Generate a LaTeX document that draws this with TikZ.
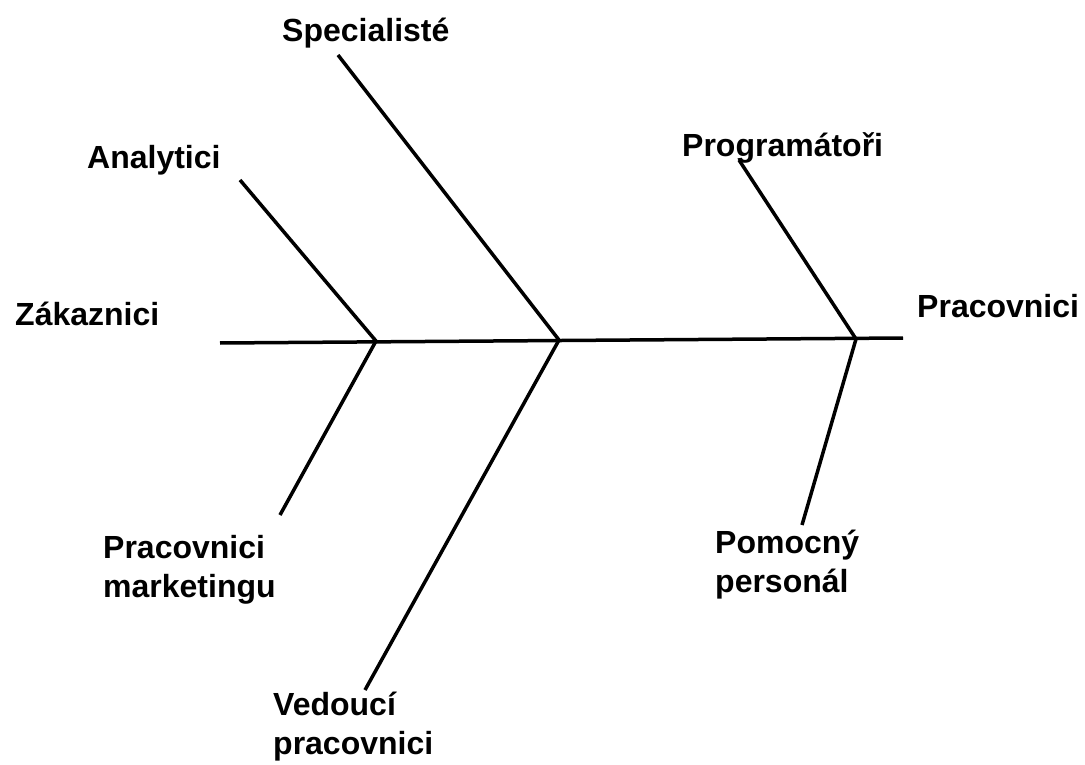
\documentclass[tikz,border=0pt]{standalone}
\usepackage{fontspec}
\setmainfont{Liberation Sans}
\begin{document}
\begin{tikzpicture}[x=1pt,y=-1pt,
  bone/.style={line width=3.5pt},
  lbl/.style={font=\bfseries\fontsize{32}{39}\selectfont, inner sep=0pt, align=left, anchor=base west}]
\useasboundingbox (0,0) rectangle (1085,765);
% spine
\coordinate (tail) at (220,343);
\coordinate (head) at (903,338);
\coordinate (j1) at (376,341);
\coordinate (j2) at (559,340);
\coordinate (j3) at (856,339);
\draw[bone] (tail) -- (head);
% bones
\coordinate (anal) at (240,180);
\coordinate (mark) at (280,515);
\coordinate (spec) at (338,55);
\coordinate (ved) at (365,690);
\coordinate (prog) at (739,160);
\coordinate (pom) at (802,525);
\draw[bone] (anal) -- (j1) -- (mark);
\draw[bone] (spec) -- (j2) -- (ved);
\draw[bone] (prog) -- (j3) -- (pom);
% labels (base = last line)
\node[lbl] (lspec) at (282,42) {Specialisté};
\node[lbl] (lanal) at (87,168) {Analytici};
\node[lbl] (lzak) at (15,325) {Zákaznici};
\node[lbl] (lprog) at (682,157) {Programátoři};
\node[lbl] (lprac) at (917,317) {Pracovnici};
\node[lbl] (lmark) at (103,597) {Pracovnici\\marketingu};
\node[lbl] (lpom) at (715,592) {Pomocný\\personál};
\node[lbl] (lved) at (273,754) {Vedoucí\\pracovnici};
\end{tikzpicture}
\end{document}
